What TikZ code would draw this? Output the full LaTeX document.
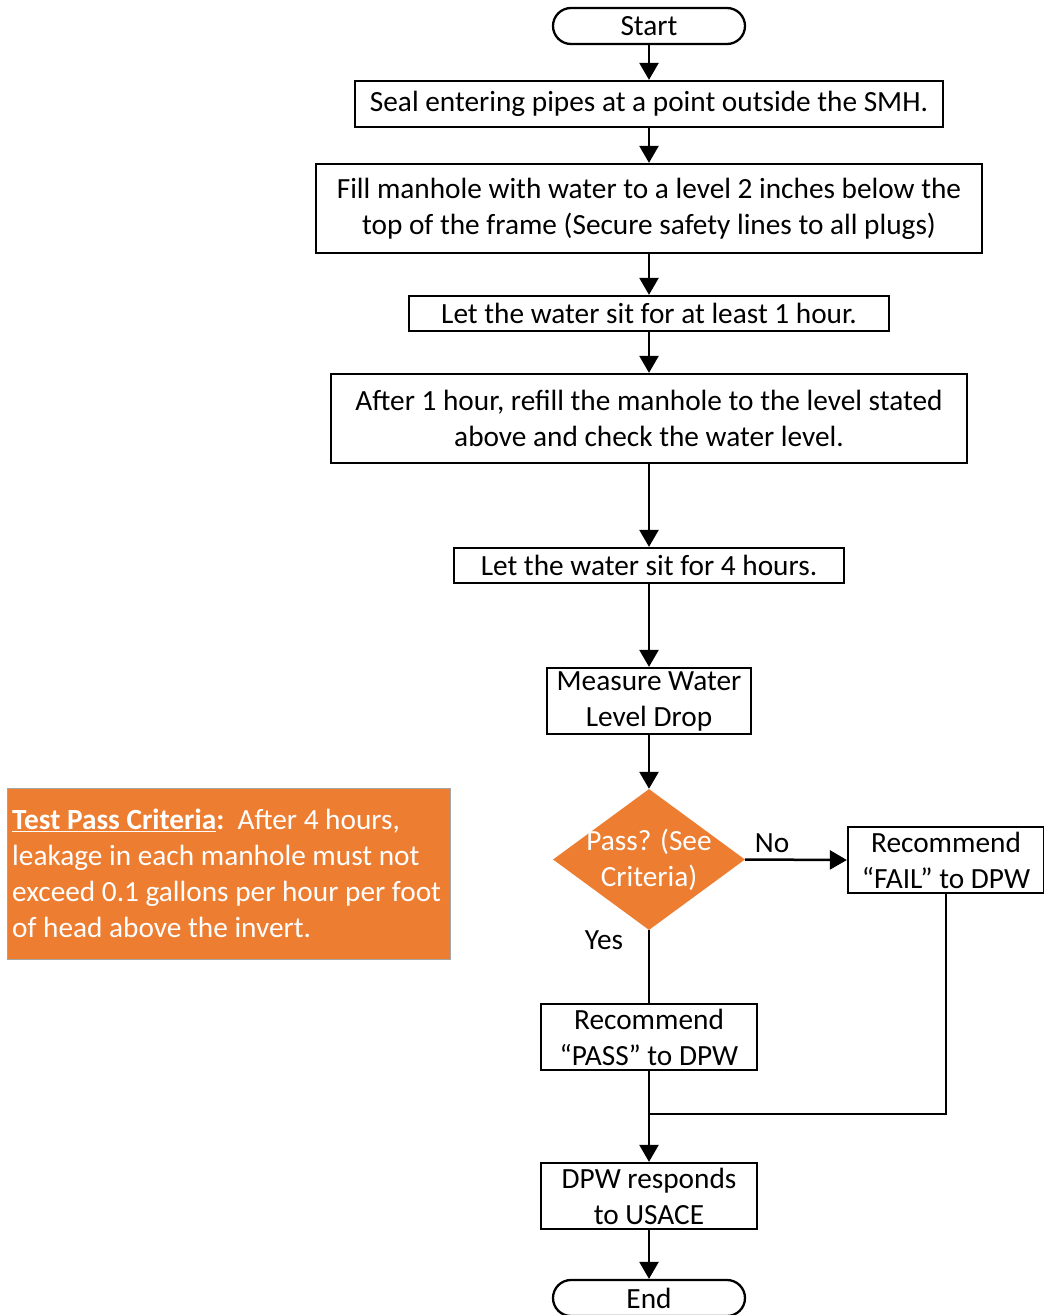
\documentclass[tikz,border=0pt]{standalone}
\usepackage{fontspec}
\setmainfont{Carlito}
\usetikzlibrary{shapes.geometric,arrows.meta}
\definecolor{accent}{HTML}{ED7D31}
\definecolor{boxedge}{HTML}{A5A5A5}
\begin{document}
\begin{tikzpicture}[x=1pt,y=-1pt,
  every node/.style={font=\fontsize{29.3}{36}\selectfont, inner sep=0pt},
  stepbox/.style={draw, line width=2.3pt, align=center},
  term/.style={draw, line width=2.3pt, rounded corners=18pt, minimum width=192pt, minimum height=36pt},
  conn/.style={line width=2.5pt},
  arr/.style={conn, -{Triangle[width=19pt,length=17pt]}}]
\useasboundingbox (0,0) rectangle (1044,1315);
\node[term] (start) at (649,26) {Start};
\node[stepbox, minimum width=588pt, minimum height=46pt] (seal) at (649,104) {Seal entering pipes at a point outside the SMH.};
\node[stepbox, minimum width=666pt, minimum height=89pt] (fill) at (649,208.5) {Fill manhole with water to a level 2 inches below the\\top of the frame (Secure safety lines to all plugs)};
\node[stepbox, minimum width=480pt, minimum height=35pt] (sit1) at (649,313.5) {Let the water sit for at least 1 hour.};
\node[stepbox, minimum width=636pt, minimum height=89pt] (refill) at (649,418.5) {After 1 hour, refill the manhole to the level stated\\above and check the water level.};
\node[stepbox, minimum width=390pt, minimum height=35pt] (sit4) at (649,565.5) {Let the water sit for 4 hours.};
\node[stepbox, minimum width=204pt, minimum height=66pt] (meas) at (649,701) {Measure Water\\Level Drop};
\node[diamond, fill=accent, minimum width=192pt, minimum height=141pt] (dec) at (649,859.5) {};
\node[text=white, align=center] (dectext) at (649,860) {Pass? (See\\Criteria)};
\node[stepbox, minimum width=196pt, minimum height=66pt] (fail) at (946,860) {Recommend\\“FAIL” to DPW};
\node[stepbox, minimum width=216pt, minimum height=66pt] (pass) at (649,1037) {Recommend\\“PASS” to DPW};
\node[stepbox, minimum width=216pt, minimum height=66pt] (dpw) at (649,1196) {DPW responds\\to USACE};
\node[term] (end) at (649,1298) {End};
\node (nolab) at (772,843) {No};
\node (yeslab) at (604,940) {Yes};
\coordinate (join) at (649,1114);
\node[draw=boxedge, line width=1pt, fill=accent, anchor=north west, minimum width=443pt, minimum height=171pt] (crit) at (7,788) {};
\node[text=white, anchor=west, align=left] (crittext) at (12,873.5) {\textbf{\underline{Test Pass Criteria}:}\ \ After 4 hours,\\leakage in each manhole must not\\exceed 0.1 gallons per hour per foot\\of head above the invert.};
\draw[arr] (start) -- (seal);
\draw[arr] (seal) -- (fill);
\draw[arr] (fill) -- (sit1);
\draw[arr] (sit1) -- (refill);
\draw[arr] (refill) -- (sit4);
\draw[arr] (sit4) -- (meas);
\draw[arr] (meas) -- (dec);
\draw[arr] (dec.east) -- (fail.west);
\draw[conn] (dec.south) -- (pass.north);
\draw[arr] (pass) -- (dpw);
\draw[conn] (fail.south) |- (join);
\draw[arr] (dpw) -- (end);
\end{tikzpicture}
\end{document}
